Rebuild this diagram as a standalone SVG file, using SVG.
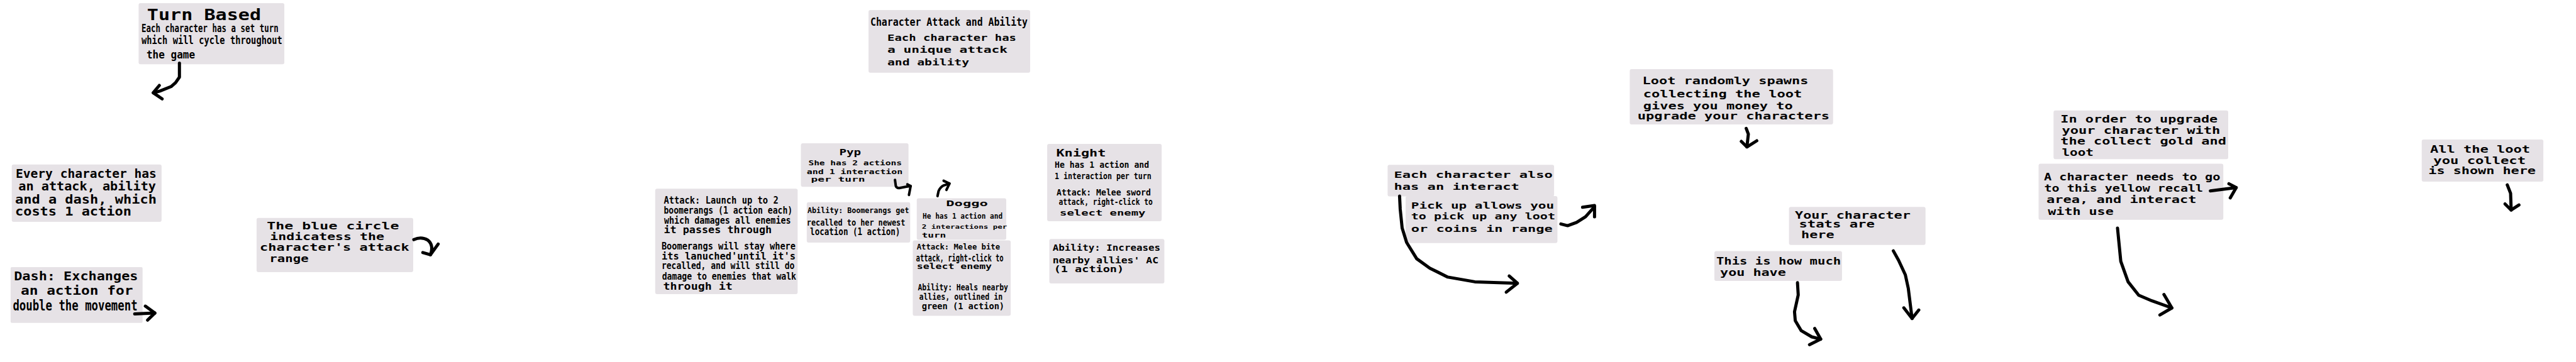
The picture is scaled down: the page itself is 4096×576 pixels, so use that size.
<svg xmlns="http://www.w3.org/2000/svg" width="4096" height="576" viewBox="0 0 4096 576">
<style>
.bg{fill:#ffffff}
.box{fill:#e6e2e6}
.t{font-family:"DejaVu Sans Mono","Liberation Mono",monospace;font-weight:bold;fill:#000}
.a{fill:none;stroke:#000;stroke-linecap:round;stroke-linejoin:round;stroke-width:5}
.a4{fill:none;stroke:#000;stroke-linecap:round;stroke-linejoin:round;stroke-width:4}
</style>
<rect class="bg" x="0" y="0" width="4096" height="576"/>

<g id="turn-based">
<rect class="box" x="220.4" y="5" width="231.7" height="97.2" rx="3"/>
<text class="t" x="233.8" y="32" font-size="25.5" textLength="181.3" lengthAdjust="spacingAndGlyphs">Turn Based</text>
<text class="t" x="224.9" y="50.7" font-size="17" textLength="217.8" lengthAdjust="spacingAndGlyphs">Each character has a set turn</text>
<text class="t" x="224.9" y="70.2" font-size="17" textLength="224" lengthAdjust="spacingAndGlyphs">which will cycle throughout</text>
<text class="t" x="232.9" y="93.3" font-size="17" textLength="77.3" lengthAdjust="spacingAndGlyphs">the game</text>
</g>

<g id="every-character">
<rect class="box" x="18.7" y="261.7" width="238.2" height="91.2" rx="3"/>
<text class="t" x="24.9" y="282.7" font-size="19.5" textLength="224" lengthAdjust="spacingAndGlyphs">Every character has</text>
<text class="t" x="29.3" y="303.1" font-size="19.5" textLength="218.7" lengthAdjust="spacingAndGlyphs">an attack, ability</text>
<text class="t" x="24" y="323.6" font-size="19.5" textLength="224.9" lengthAdjust="spacingAndGlyphs">and a dash, which</text>
<text class="t" x="24" y="343.1" font-size="19.5" textLength="184.9" lengthAdjust="spacingAndGlyphs">costs 1 action</text>
</g>

<g id="dash">
<rect class="box" x="16.9" y="424.9" width="209.8" height="88.9" rx="2"/>
<text class="t" x="22.2" y="446.2" font-size="19.5" textLength="197.3" lengthAdjust="spacingAndGlyphs">Dash: Exchanges</text>
<text class="t" x="32.9" y="469.3" font-size="19.5" textLength="178.7" lengthAdjust="spacingAndGlyphs">an action for</text>
<text class="t" x="20.4" y="494.2" font-size="23" textLength="198.2" lengthAdjust="spacingAndGlyphs">double the movement</text>
</g>

<g id="blue-circle">
<rect class="box" x="408" y="346.7" width="249" height="86.2" rx="3"/>
<text class="t" x="424.3" y="365.3" font-size="16" textLength="210.2" lengthAdjust="spacingAndGlyphs">The blue circle</text>
<text class="t" x="429.3" y="382.2" font-size="16" textLength="181.7" lengthAdjust="spacingAndGlyphs">indicatess the</text>
<text class="t" x="413" y="399.1" font-size="16" textLength="237.8" lengthAdjust="spacingAndGlyphs">character's attack</text>
<text class="t" x="428.3" y="416.9" font-size="16" textLength="62.3" lengthAdjust="spacingAndGlyphs">range</text>
</g>

<g id="character-attack-ability">
<rect class="box" x="1381" y="16" width="257" height="99.7" rx="3"/>
<text class="t" x="1384" y="40.9" font-size="17" textLength="250" lengthAdjust="spacingAndGlyphs">Character Attack and Ability</text>
<text class="t" x="1411" y="64.9" font-size="13.4" textLength="205" lengthAdjust="spacingAndGlyphs">Each character has</text>
<text class="t" x="1411" y="84.4" font-size="13.4" textLength="191" lengthAdjust="spacingAndGlyphs">a unique attack</text>
<text class="t" x="1411" y="104" font-size="13.4" textLength="130" lengthAdjust="spacingAndGlyphs">and ability</text>
</g>

<g id="pyp-attack">
<rect class="box" x="1041.8" y="300.3" width="226.5" height="167.8" rx="3"/>
<text class="t" x="1055.4" y="323.8" font-size="15.3" textLength="182.3" lengthAdjust="spacingAndGlyphs">Attack: Launch up to 2</text>
<text class="t" x="1055.4" y="340.1" font-size="15.3" textLength="204.8" lengthAdjust="spacingAndGlyphs">boomerangs (1 action each)</text>
<text class="t" x="1055.9" y="356.4" font-size="15.3" textLength="201.7" lengthAdjust="spacingAndGlyphs">which damages all enemies</text>
<text class="t" x="1055.4" y="370.7" font-size="15.3" textLength="171.7" lengthAdjust="spacingAndGlyphs">it passes through</text>
<text class="t" x="1051.9" y="397.3" font-size="15.3" textLength="213.1" lengthAdjust="spacingAndGlyphs">Boomerangs will stay where</text>
<text class="t" x="1051.9" y="412.6" font-size="15.3" textLength="213.1" lengthAdjust="spacingAndGlyphs">its lanuched'until it's</text>
<text class="t" x="1051.9" y="427.9" font-size="15.3" textLength="211.5" lengthAdjust="spacingAndGlyphs">recalled, and will still do</text>
<text class="t" x="1052.7" y="445.2" font-size="15.3" textLength="213.3" lengthAdjust="spacingAndGlyphs">damage to enemies that walk</text>
<text class="t" x="1054.6" y="460.5" font-size="15.3" textLength="110.1" lengthAdjust="spacingAndGlyphs">through it</text>
</g>

<g id="pyp">
<rect class="box" x="1273.5" y="227.9" width="171.1" height="69.3" rx="3"/>
<text class="t" x="1334.5" y="247.2" font-size="14" textLength="34.5" lengthAdjust="spacingAndGlyphs">Pyp</text>
<text class="t" x="1285.4" y="262.6" font-size="11.2" textLength="148.6" lengthAdjust="spacingAndGlyphs">She has 2 actions</text>
<text class="t" x="1282.8" y="276.8" font-size="11.2" textLength="152.5" lengthAdjust="spacingAndGlyphs">and 1 interaction</text>
<text class="t" x="1289.4" y="289.1" font-size="11.2" textLength="86.2" lengthAdjust="spacingAndGlyphs">per turn</text>
</g>

<g id="pyp-ability">
<rect class="box" x="1282.8" y="321.7" width="164.5" height="64.3" rx="3"/>
<text class="t" x="1284.1" y="339.1" font-size="12.6" textLength="161.3" lengthAdjust="spacingAndGlyphs">Ability: Boomerangs get</text>
<text class="t" x="1282.8" y="358.5" font-size="13.6" textLength="156.5" lengthAdjust="spacingAndGlyphs">recalled to her newest</text>
<text class="t" x="1288.1" y="373.8" font-size="15" textLength="143.3" lengthAdjust="spacingAndGlyphs">location (1 action)</text>
</g>

<g id="doggo">
<rect class="box" x="1457.7" y="315.4" width="142.3" height="66.1" rx="3"/>
<text class="t" x="1504.3" y="327.5" font-size="13" textLength="66.5" lengthAdjust="spacingAndGlyphs">Doggo</text>
<text class="t" x="1467.1" y="348.4" font-size="13" textLength="127.1" lengthAdjust="spacingAndGlyphs">He has 1 action and</text>
<text class="t" x="1465.7" y="363.8" font-size="9.5" textLength="135.7" lengthAdjust="spacingAndGlyphs">2 interactions per</text>
<text class="t" x="1465.7" y="378" font-size="10" textLength="38.6" lengthAdjust="spacingAndGlyphs">turn</text>
</g>

<g id="doggo-attack">
<rect class="box" x="1451.4" y="382.5" width="155.7" height="120" rx="3"/>
<text class="t" x="1457.7" y="396.8" font-size="11.8" textLength="132.3" lengthAdjust="spacingAndGlyphs">Attack: Melee bite</text>
<text class="t" x="1456.6" y="415.8" font-size="15.6" textLength="139.1" lengthAdjust="spacingAndGlyphs">attack, right-click to</text>
<text class="t" x="1457.7" y="428.2" font-size="11.8" textLength="119.4" lengthAdjust="spacingAndGlyphs">select enemy</text>
<text class="t" x="1459.4" y="461.5" font-size="14.4" textLength="143.4" lengthAdjust="spacingAndGlyphs">Ability: Heals nearby</text>
<text class="t" x="1461.4" y="476.8" font-size="14.4" textLength="132.8" lengthAdjust="spacingAndGlyphs">allies, outlined in</text>
<text class="t" x="1465.7" y="492" font-size="14.4" textLength="131.4" lengthAdjust="spacingAndGlyphs">green (1 action)</text>
</g>

<g id="knight">
<rect class="box" x="1665.1" y="229.1" width="182" height="122.9" rx="3"/>
<text class="t" x="1679.4" y="249.1" font-size="15.6" textLength="79.1" lengthAdjust="spacingAndGlyphs">Knight</text>
<text class="t" x="1677.1" y="267.2" font-size="14.4" textLength="150" lengthAdjust="spacingAndGlyphs">He has 1 action and</text>
<text class="t" x="1677.1" y="285.3" font-size="14.4" textLength="153.7" lengthAdjust="spacingAndGlyphs">1 interaction per turn</text>
<text class="t" x="1680" y="311" font-size="14.4" textLength="149.9" lengthAdjust="spacingAndGlyphs">Attack: Melee sword</text>
<text class="t" x="1683.4" y="326.3" font-size="14.4" textLength="149.4" lengthAdjust="spacingAndGlyphs">attack, right-click to</text>
<text class="t" x="1685.1" y="342.5" font-size="13" textLength="136.3" lengthAdjust="spacingAndGlyphs">select enemy</text>
</g>

<g id="knight-ability">
<rect class="box" x="1668.5" y="380.2" width="182.9" height="70.9" rx="3"/>
<text class="t" x="1673.7" y="398.7" font-size="14.4" textLength="171.3" lengthAdjust="spacingAndGlyphs">Ability: Increases</text>
<text class="t" x="1673.7" y="418.7" font-size="14.4" textLength="168.5" lengthAdjust="spacingAndGlyphs">nearby allies' AC</text>
<text class="t" x="1675.7" y="433" font-size="14.4" textLength="111.4" lengthAdjust="spacingAndGlyphs">(1 action)</text>
</g>

<g id="interact">
<rect class="box" x="2206.4" y="262.2" width="264.7" height="50.3" rx="3"/>
<text class="t" x="2216.4" y="282.7" font-size="14.6" textLength="252.4" lengthAdjust="spacingAndGlyphs">Each character also</text>
<text class="t" x="2216.4" y="302.2" font-size="14.6" textLength="199.5" lengthAdjust="spacingAndGlyphs">has an interact</text>
</g>

<g id="pick-up">
<rect class="box" x="2235" y="312" width="241.4" height="74.7" rx="3"/>
<text class="t" x="2243.8" y="332.4" font-size="14.6" textLength="227.3" lengthAdjust="spacingAndGlyphs">Pick up allows you</text>
<text class="t" x="2243.8" y="349.3" font-size="14.6" textLength="229.2" lengthAdjust="spacingAndGlyphs">to pick up any loot</text>
<text class="t" x="2243.8" y="368.9" font-size="14.6" textLength="225" lengthAdjust="spacingAndGlyphs">or coins in range</text>
</g>

<g id="loot-spawns">
<rect class="box" x="2591.4" y="109.9" width="323.3" height="88" rx="3"/>
<text class="t" x="2611.6" y="134.2" font-size="15.9" textLength="263.8" lengthAdjust="spacingAndGlyphs">Loot randomly spawns</text>
<text class="t" x="2612.8" y="154.7" font-size="15.9" textLength="252.5" lengthAdjust="spacingAndGlyphs">collecting the loot</text>
<text class="t" x="2612.8" y="174.2" font-size="15.9" textLength="237.9" lengthAdjust="spacingAndGlyphs">gives you money to</text>
<text class="t" x="2603.8" y="190.2" font-size="15.9" textLength="305.3" lengthAdjust="spacingAndGlyphs">upgrade your characters</text>
</g>

<g id="stats">
<rect class="box" x="2844.6" y="329.2" width="217.1" height="60.5" rx="3"/>
<text class="t" x="2854.1" y="347.5" font-size="15.9" textLength="183.8" lengthAdjust="spacingAndGlyphs">Your character</text>
<text class="t" x="2860.5" y="361.8" font-size="15.9" textLength="120.3" lengthAdjust="spacingAndGlyphs">stats are</text>
<text class="t" x="2864.1" y="378.7" font-size="15.9" textLength="52.4" lengthAdjust="spacingAndGlyphs">here</text>
</g>

<g id="money">
<rect class="box" x="2726" y="399.6" width="202.9" height="47.5" rx="3"/>
<text class="t" x="2728.9" y="421" font-size="15.3" textLength="198.3" lengthAdjust="spacingAndGlyphs">This is how much</text>
<text class="t" x="2735.1" y="439.1" font-size="15.3" textLength="104.7" lengthAdjust="spacingAndGlyphs">you have</text>
</g>

<g id="upgrade">
<rect class="box" x="3265.3" y="175.7" width="277.7" height="77.5" rx="3"/>
<text class="t" x="3276.3" y="194.8" font-size="15.3" textLength="249.9" lengthAdjust="spacingAndGlyphs">In order to upgrade</text>
<text class="t" x="3278.4" y="212.7" font-size="15.3" textLength="252" lengthAdjust="spacingAndGlyphs">your character with</text>
<text class="t" x="3276.3" y="229.6" font-size="15.3" textLength="263.6" lengthAdjust="spacingAndGlyphs">the collect gold and</text>
<text class="t" x="3278.4" y="247.5" font-size="15.3" textLength="50.6" lengthAdjust="spacingAndGlyphs">loot</text>
</g>

<g id="recall">
<rect class="box" x="3241.5" y="260.6" width="293.7" height="89.1" rx="3"/>
<text class="t" x="3249.9" y="286.8" font-size="15.3" textLength="280.5" lengthAdjust="spacingAndGlyphs">A character needs to go</text>
<text class="t" x="3250.6" y="304.8" font-size="15.3" textLength="252.4" lengthAdjust="spacingAndGlyphs">to this yellow recall</text>
<text class="t" x="3254.1" y="322.7" font-size="15.3" textLength="238.3" lengthAdjust="spacingAndGlyphs">area, and interact</text>
<text class="t" x="3256.3" y="341.8" font-size="15.3" textLength="104.4" lengthAdjust="spacingAndGlyphs">with use</text>
</g>

<g id="all-loot">
<rect class="box" x="3850.7" y="221.9" width="193.4" height="67" rx="3"/>
<text class="t" x="3864" y="242.7" font-size="15.9" textLength="159.1" lengthAdjust="spacingAndGlyphs">All the loot</text>
<text class="t" x="3869.3" y="261.3" font-size="15.9" textLength="146.7" lengthAdjust="spacingAndGlyphs">you collect</text>
<text class="t" x="3861.3" y="277.3" font-size="15.9" textLength="170.7" lengthAdjust="spacingAndGlyphs">is shown here</text>
</g>

<g id="connectors">
<path class="a" d="M285.3,100.4 L285.3,122.7 L279.1,131.6 L272,137.8 L254.2,144.9 L244.4,147.6"/>
<path class="a" d="M253.3,136 L243.6,147.6 L257.8,157.3"/>
<path class="a" d="M214.2,499.6 L246.2,498.1"/>
<path class="a" d="M231.1,487.1 L246.2,498.1 L234.7,509.3"/>
<path class="a" d="M658,381.3 Q670,376 680.4,382.2 Q690,390 684.5,405.3"/>
<path class="a" d="M672.3,401.8 L684.5,405.3 L696.7,388.4"/>
<path class="a4" d="M1423.1,286.2 L1424.4,296 Q1426,300 1431.1,299 L1440,297.2 L1448,296"/>
<path class="a4" d="M1442.7,293.3 L1448,296 L1445.3,310.2"/>
<path class="a4" d="M1490.7,312 L1492.4,304 Q1495,298 1500.4,295.1 L1509.7,292.1"/>
<path class="a4" d="M1500.4,287.6 L1509.7,292.1 L1504.9,302.2"/>
<path class="a" d="M2225.4,312 L2226.4,332.4 L2229.5,362.7 L2236.6,385.8 L2252.6,411.6 L2273.5,426.7 L2302.1,440.9 L2345,448.4 L2412.8,450.7"/>
<path class="a" d="M2399.7,439.1 L2412.8,450.7 L2395,464.9"/>
<path class="a" d="M2481.9,356.4 L2492.6,359.1 L2506.9,353.8 L2521.1,344.9 L2535.4,328.9"/>
<path class="a" d="M2516.4,329.8 L2535.4,327.1 L2535.4,344.9"/>
<path class="a" d="M2776.6,204.4 L2780,213.3 L2777.7,233.8"/>
<path class="a" d="M2768.8,224.9 L2777.7,233.8 L2793.4,224"/>
<path class="a" d="M2858.1,449.8 L2859.3,469.3 L2853.4,496 L2854.6,510.2 L2864.1,526.2 L2880.8,536 L2895,539.6"/>
<path class="a" d="M2885.5,522.7 L2895,539.6 L2877.2,548.4"/>
<path class="a" d="M3010.5,399.1 L3018.9,414.2 L3029.6,437.3 L3034.3,458.7 L3040.3,506.7"/>
<path class="a" d="M3027.2,489.8 L3040.3,506.7 L3051,493.3"/>
<path class="a" d="M3514.6,303.7 L3555.7,298.5"/>
<path class="a" d="M3544.1,292.4 L3555.7,298.5 L3546.2,314.9"/>
<path class="a" d="M3367,363.1 L3369.1,384.5 L3372.2,415.9 L3383.8,448.4 L3400.7,469.8 L3421.8,478.7 L3453.4,490"/>
<path class="a" d="M3440.8,468.6 L3453.4,490 L3434.4,501.2"/>
<path class="a" d="M3986.7,294.2 L3992,307.6 L3992.9,334.2"/>
<path class="a" d="M3983.1,324.4 L3992.9,334.2 L4005.3,326.2"/>
</g>
</svg>
